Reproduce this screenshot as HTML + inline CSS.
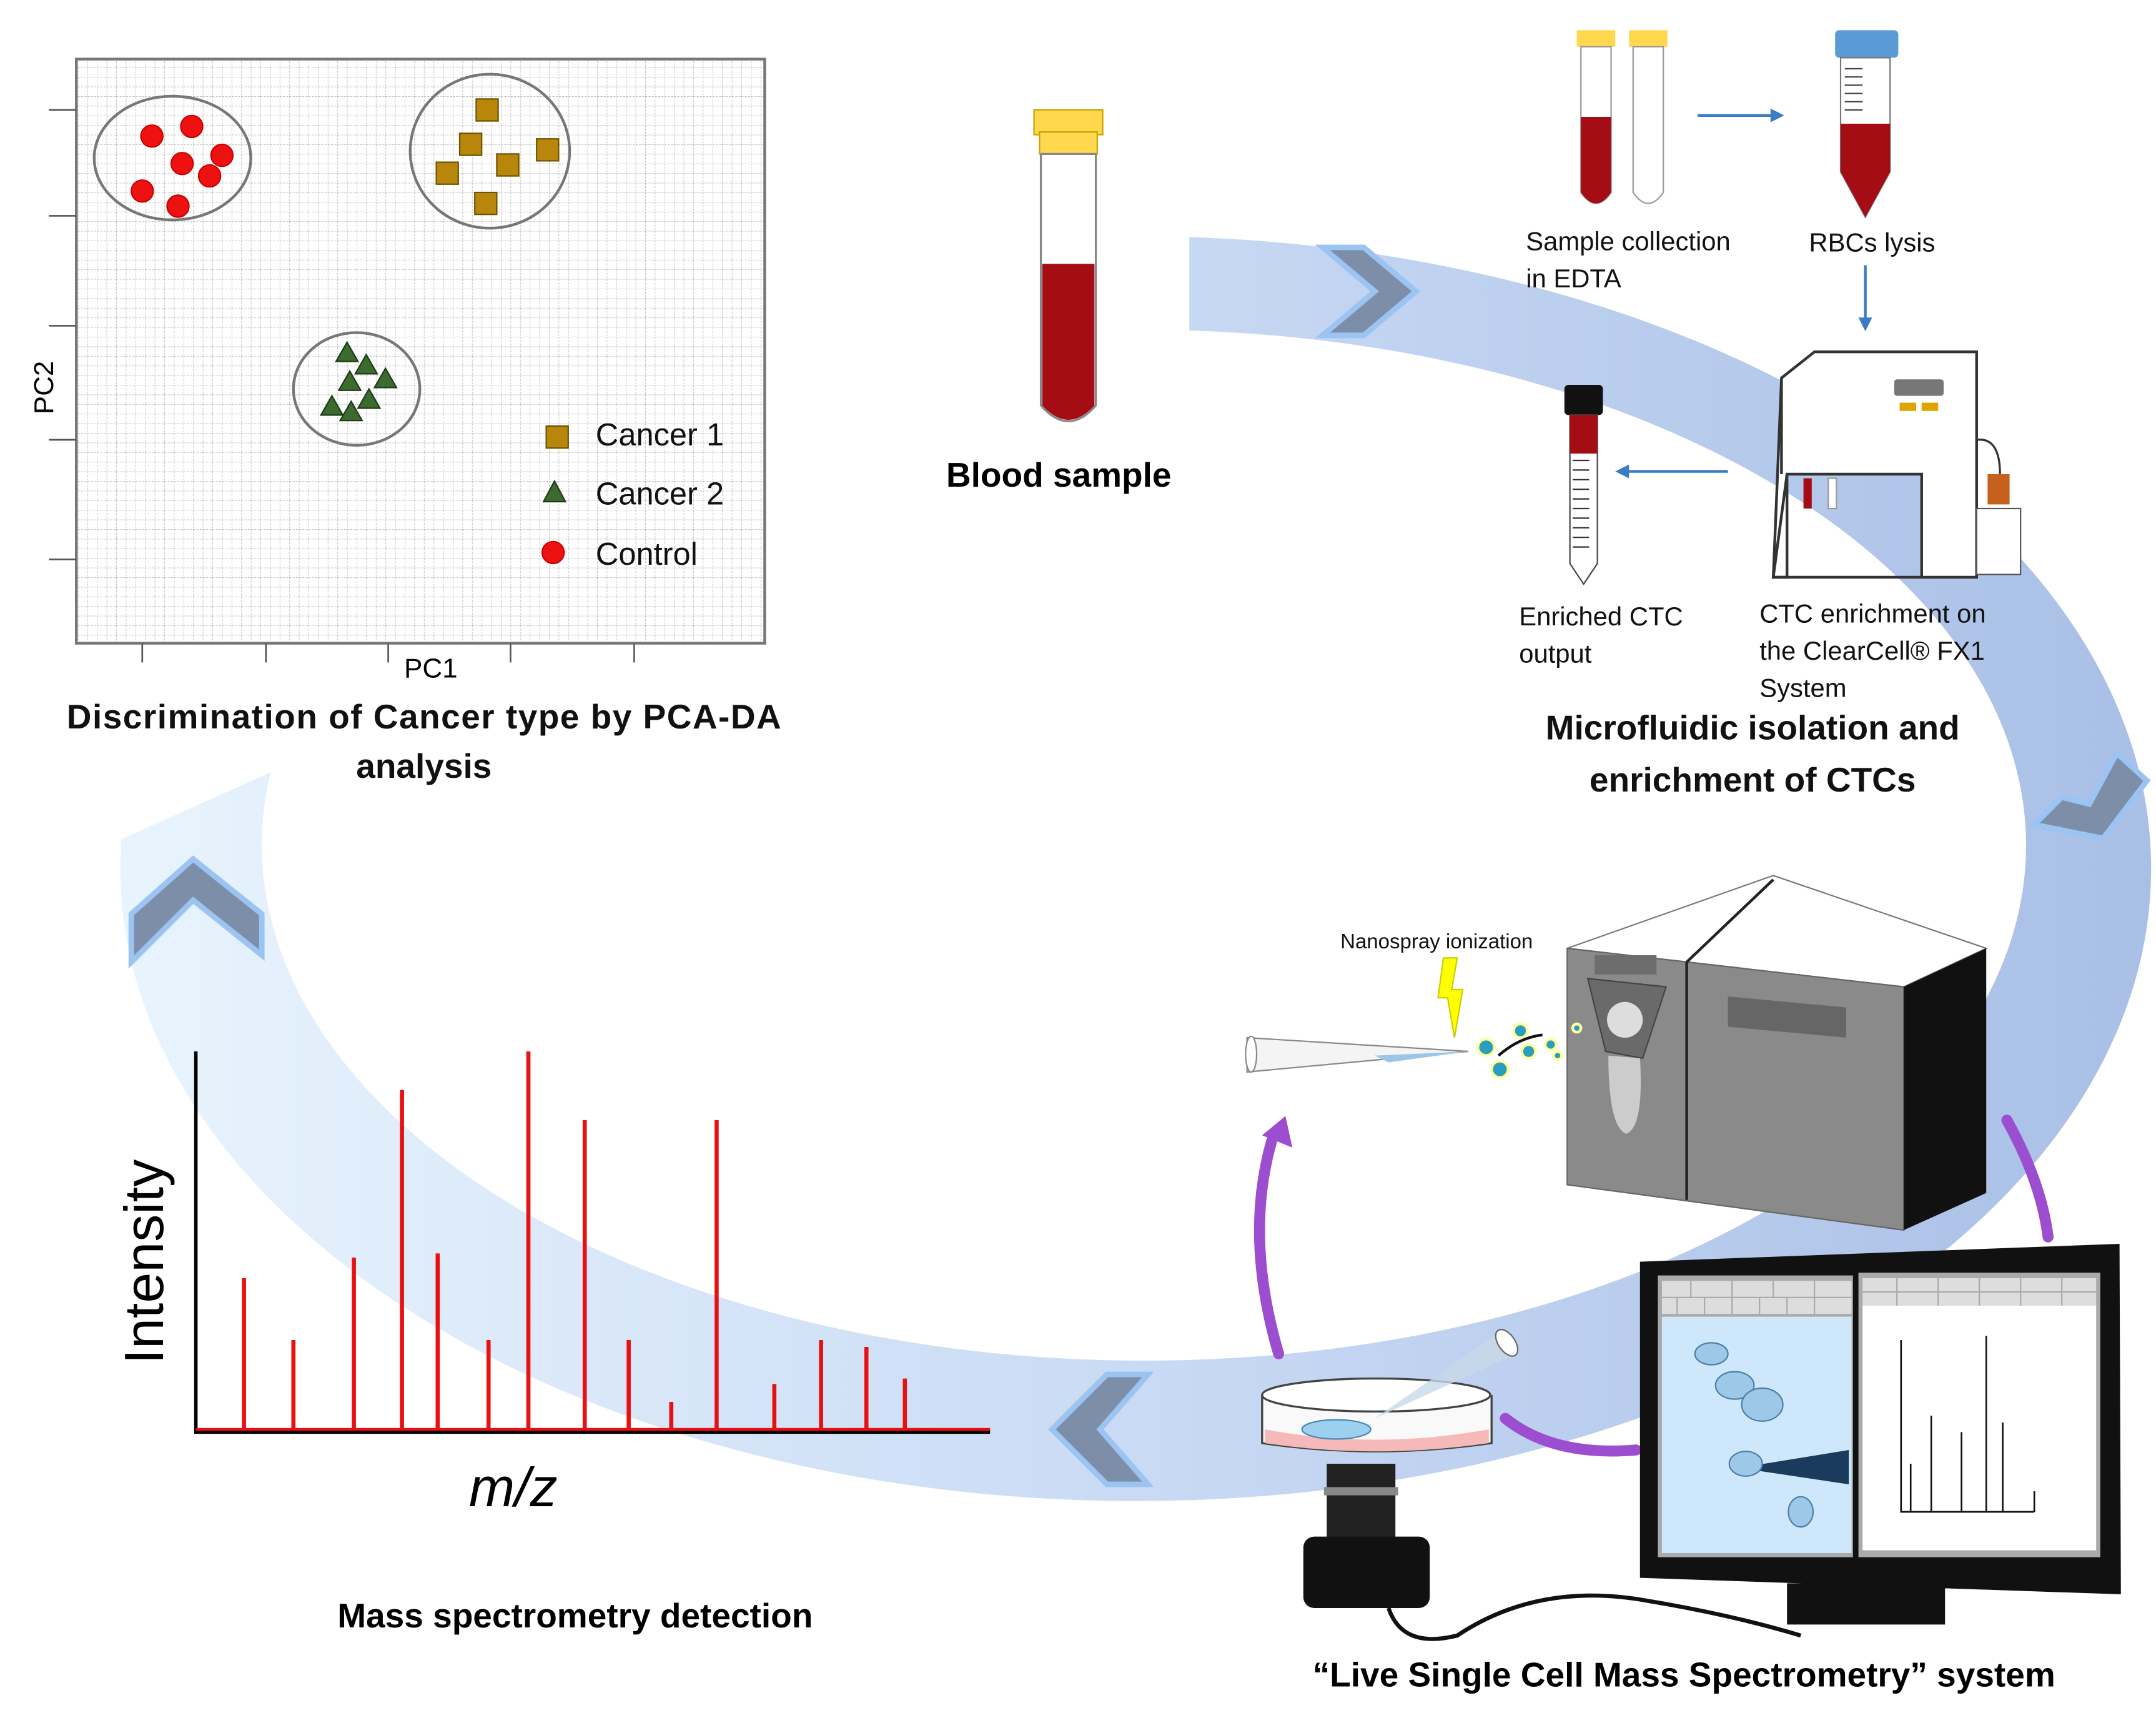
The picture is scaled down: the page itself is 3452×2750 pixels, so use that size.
<!DOCTYPE html>
<html><head><meta charset="utf-8"><style>html,body{margin:0;padding:0;background:#fff}svg{display:block}text{font-family:"Liberation Sans",sans-serif}</style></head><body>
<svg width="3452" height="2750" viewBox="0 0 1568 1250" xmlns="http://www.w3.org/2000/svg">
<defs>
<linearGradient id="ring" x1="0" y1="0" x2="1" y2="0"><stop offset="0" stop-color="#e8f4fd"/><stop offset="0.5" stop-color="#c9daf4"/><stop offset="1" stop-color="#a9bfe6"/></linearGradient>
<pattern id="grid" width="7" height="7" patternUnits="userSpaceOnUse"><rect width="7" height="7" fill="#fff"/><path d="M0 0H7M0 0V7" stroke="#bbb" stroke-width="0.8" stroke-dasharray="1.5 1"/></pattern>
<clipPath id="rc"><polygon points="865,0 1568,0 1568,1250 0,1250 0,650 865,262"/></clipPath>
</defs>
<rect width="1568" height="1250" fill="#fff"/>
<path clip-path="url(#rc)" fill-rule="evenodd" fill="url(#ring)" d="M87 632 A739 460 0 1 0 1565 632 A739 460 0 1 0 87 632 Z M190 615 A642 375 0 1 0 1474 615 A642 375 0 1 0 190 615 Z"/>
<g fill="#7d8ea8" stroke="#9cc4f2" stroke-width="4">
<polygon points="962,180 992,180 1030,212 992,244 962,244 1000,212"/>
<polygon points="1540,548 1562,568 1530,610 1480,600 1500,580 1520,585"/>
<polygon points="835,1000 805,1000 765,1040 805,1080 835,1080 800,1040"/>
<polygon points="95,700 95,665 140,625 190,665 190,695 140,655"/>
</g>
<rect x="55" y="43" width="501" height="425" fill="url(#grid)" stroke="#777" stroke-width="2"/>
<g stroke="#555" stroke-width="1.2">
<path d="M35 80H55M35 157H55M35 237H55M35 320H55M35 407H55M103 468V482M193 468V482M282 468V482M371 468V482M461 468V482"/>
</g>
<g fill="none" stroke="#777" stroke-width="2">
<ellipse cx="125" cy="115" rx="57" ry="45"/><ellipse cx="356" cy="110" rx="58" ry="56"/><ellipse cx="259" cy="283" rx="46" ry="41"/>
</g>
<g fill="#ee1111" stroke="#c00" stroke-width="1">
<circle cx="110" cy="99" r="8"/><circle cx="139" cy="92" r="8"/><circle cx="132" cy="119" r="8"/><circle cx="161" cy="113" r="8"/><circle cx="152" cy="128" r="8"/><circle cx="103" cy="139" r="8"/><circle cx="129" cy="150" r="8"/><circle cx="402" cy="402" r="8"/>
</g>
<g fill="#b8860b" stroke="#6b5200" stroke-width="1">
<rect x="346" y="72" width="16" height="16"/><rect x="334" y="97" width="16" height="16"/><rect x="361" y="112" width="16" height="16"/><rect x="390" y="101" width="16" height="16"/><rect x="317" y="118" width="16" height="16"/><rect x="345" y="140" width="16" height="16"/><rect x="397" y="310" width="16" height="16"/>
</g>
<g fill="#3b6b2e" stroke="#1d3a15" stroke-width="1">
<polygon points="252,249 244,263 260,263"/><polygon points="266,258 258,272 274,272"/><polygon points="280,268 272,282 288,282"/><polygon points="254,270 246,284 262,284"/><polygon points="241,288 233,302 249,302"/><polygon points="268,283 260,297 276,297"/><polygon points="255,292 247,306 263,306"/><polygon points="403,350 395,365 411,365"/>
</g>
<g font-size="23" fill="#111"><text x="433" y="324">Cancer 1</text><text x="433" y="367">Cancer 2</text><text x="433" y="411">Control</text></g>
<text x="313" y="493" font-size="20" text-anchor="middle">PC1</text>
<text x="38" y="282" font-size="20" text-anchor="middle" transform="rotate(-90 38 282)">PC2</text>
<g font-size="25" font-weight="bold" text-anchor="middle" fill="#111"><text x="308" y="530" textLength="520">Discrimination of Cancer type  by PCA-DA</text><text x="308" y="566">analysis</text></g>
<rect x="752" y="80" width="50" height="18" fill="#ffd84d" stroke="#c9a100"/><rect x="756" y="96" width="42" height="16" fill="#ffd84d" stroke="#c9a100"/>
<path d="M757 112V295Q777 318 797 295V112Z" fill="#fff" stroke="#888" stroke-width="1.5"/>
<path d="M758 192H796V295Q777 316 758 295Z" fill="#a50d14"/>
<text x="770" y="354" font-size="25" font-weight="bold" text-anchor="middle">Blood sample</text>
<rect x="1147" y="22" width="28" height="12" fill="#ffd84d"/><rect x="1185" y="22" width="28" height="12" fill="#ffd84d"/>
<path d="M1150 34V140Q1161 156 1172 140V34Z" fill="#fff" stroke="#999"/><path d="M1150 85H1172V140Q1161 156 1150 140Z" fill="#a50d14"/>
<path d="M1188 34V140Q1199 156 1210 140V34Z" fill="#fff" stroke="#999"/>
<path d="M1235 84H1295" stroke="#3a7dc4" stroke-width="2"/><polygon points="1298,84 1288,79 1288,89" fill="#3a7dc4"/>
<rect x="1335" y="22" width="46" height="20" rx="3" fill="#5b9bd5"/>
<path d="M1339 42V125L1357 158L1375 125V42Z" fill="#fff" stroke="#777"/><path d="M1339 90H1375V125L1357 158L1339 125Z" fill="#a50d14"/>
<path d="M1342 50H1355M1342 56H1355M1342 62H1355M1342 68H1355M1342 74H1355M1342 80H1355" stroke="#444"/>
<g font-size="19" fill="#111"><text x="1110" y="182">Sample collection</text><text x="1110" y="209">in EDTA</text><text x="1316" y="183">RBCs lysis</text>
<text x="1105" y="455">Enriched CTC</text><text x="1105" y="482">output</text><text x="1280" y="453">CTC enrichment on</text><text x="1280" y="480">the ClearCell® FX1</text><text x="1280" y="507">System</text></g>
<path d="M1357 193V235" stroke="#3a7dc4" stroke-width="2"/><polygon points="1357,241 1352,231 1362,231" fill="#3a7dc4"/>
<path d="M1257 343H1182" stroke="#3a7dc4" stroke-width="2"/><polygon points="1175,343 1185,338 1185,348" fill="#3a7dc4"/>
<rect x="1138" y="280" width="28" height="22" rx="3" fill="#111"/>
<path d="M1142 302V410L1152 425L1162 410V302Z" fill="#fff" stroke="#444"/><path d="M1142 302H1162V330H1142Z" fill="#a50d14"/>
<path d="M1144 335H1156M1144 342H1156M1144 349H1156M1144 356H1156M1144 363H1156M1144 370H1156M1144 377H1156M1144 384H1156M1144 391H1156M1144 398H1156" stroke="#333"/>
<g fill="#fff" stroke="#333" stroke-width="2">
<path d="M1296 275L1320 256H1438V420H1398V345H1300V420H1290Z"/>
<path d="M1296 275V345M1300 345L1290 420H1398" fill="none"/>
</g>
<rect x="1378" y="276" width="36" height="12" rx="2" fill="#777"/><rect x="1382" y="293" width="12" height="6" fill="#e0a300"/><rect x="1398" y="293" width="12" height="6" fill="#e0a300"/>
<rect x="1312" y="348" width="6" height="22" fill="#a50d14"/><rect x="1330" y="348" width="6" height="22" fill="#fff" stroke="#999"/>
<path d="M1438 320Q1455 318 1455 345" fill="none" stroke="#333" stroke-width="1.5"/>
<rect x="1438" y="370" width="32" height="48" fill="#fff" stroke="#555"/><rect x="1446" y="345" width="16" height="22" fill="#c5611d"/>
<g font-size="25" font-weight="bold" text-anchor="middle" fill="#111"><text x="1275" y="538">Microfluidic isolation and</text><text x="1275" y="576">enrichment of CTCs</text></g>
<polygon points="1140,690 1290,637 1445,690 1385,718" fill="#fff" stroke="#777"/>
<polygon points="1140,690 1385,718 1385,895 1140,862" fill="#8a8a8a" stroke="#666"/>
<polygon points="1385,718 1445,690 1445,868 1385,895" fill="#111"/>
<path d="M1227 700V873M1227 700L1290 640" stroke="#222" stroke-width="2"/>
<polygon points="1257,725 1343,733 1343,755 1257,747" fill="#666"/>
<rect x="1160" y="695" width="45" height="14" fill="#6d6d6d"/>
<polygon points="1155,712 1212,718 1195,770 1168,765" fill="#6a6a6a" stroke="#444"/>
<circle cx="1182" cy="742" r="13" fill="#ddd"/><path d="M1170 768Q1170 820 1183 825Q1196 820 1193 770Z" fill="#ccc"/>
<text x="1045" y="690" font-size="15" text-anchor="middle" fill="#111">Nanospray ionization</text>
<polygon points="1050,697 1060,697 1056,720 1064,720 1058,755 1053,726 1046,726" fill="#ffff00" stroke="#cc0"/>
<polygon points="907,755 1068,765 907,780" fill="#f4f4f4" stroke="#888"/><ellipse cx="910" cy="767" rx="4" ry="13" fill="#fff" stroke="#888"/>
<polygon points="1000,768 1068,765 1010,773" fill="#9cc6e8"/>
<g fill="#2b9dbf" stroke="#ffffa0" stroke-width="2"><circle cx="1081" cy="762" r="6"/><circle cx="1091" cy="778" r="6"/><circle cx="1106" cy="750" r="5"/><circle cx="1112" cy="765" r="5"/><circle cx="1128" cy="760" r="4"/><circle cx="1133" cy="768" r="3"/><circle cx="1147" cy="748" r="3"/></g>
<path d="M1090 768Q1105 755 1122 753" fill="none" stroke="#111" stroke-width="2"/>
<g fill="none" stroke="#9b4fd0" stroke-width="8" stroke-linecap="round">
<path d="M930 985Q905 900 925 830"/><path d="M1095 1032Q1130 1060 1190 1055"/><path d="M1460 815Q1485 860 1490 900"/>
</g>
<polygon points="918,826 935,812 940,835" fill="#9b4fd0"/>
<path d="M918 1015V1050Q1000 1062 1085 1050V1015" fill="#f9f9f9" stroke="#444" stroke-width="1.5"/>
<ellipse cx="1001" cy="1015" rx="83" ry="12" fill="#fff" stroke="#444" stroke-width="1.5"/>
<path d="M920 1040Q1000 1055 1083 1040V1050Q1000 1062 920 1050Z" fill="#f6b9b9"/>
<ellipse cx="972" cy="1040" rx="25" ry="7" fill="#9cd0ee" stroke="#4a89b0"/>
<polygon points="1000,1032 1090,970 1103,985" fill="#c8d8e8" opacity="0.8"/><ellipse cx="1096" cy="977" rx="6" ry="11" fill="#fff" stroke="#666" transform="rotate(-35 1096 977)"/>
<rect x="965" y="1065" width="50" height="55" fill="#222"/><rect x="963" y="1082" width="54" height="6" fill="#888"/>
<rect x="948" y="1118" width="92" height="52" rx="8" fill="#111"/>
<path d="M1010 1170Q1020 1200 1060 1190Q1120 1150 1200 1165Q1260 1175 1310 1190" fill="none" stroke="#111" stroke-width="3"/>
<polygon points="1193,918 1542,905 1543,1160 1193,1148" fill="#111"/>
<rect x="1300" y="1152" width="115" height="30" fill="#111"/>
<rect x="1206" y="928" width="142" height="205" fill="#aaa"/><rect x="1352" y="926" width="176" height="207" fill="#aaa"/>
<rect x="1209" y="958" width="138" height="172" fill="#cfe7fa"/><rect x="1355" y="950" width="170" height="178" fill="#fff"/>
<rect x="1209" y="932" width="138" height="24" fill="#ddd"/><rect x="1355" y="930" width="170" height="20" fill="#ddd"/>
<g stroke="#aaa" fill="none"><path d="M1209 944H1347M1230 932V944M1260 932V944M1290 932V944M1320 932V944M1220 944V956M1240 944V956M1260 944V956M1280 944V956M1300 944V956M1320 944V956M1355 940H1525M1380 930V950M1410 930V950M1440 930V950M1470 930V950M1500 930V950"/></g>
<polygon points="1265,1068 1345,1055 1345,1080" fill="#1a3b5c"/>
<g fill="#9dc8e8" stroke="#4a7fa8"><ellipse cx="1262" cy="1008" rx="14" ry="10"/><ellipse cx="1282" cy="1022" rx="15" ry="12"/><ellipse cx="1270" cy="1065" rx="12" ry="9"/><ellipse cx="1310" cy="1100" rx="9" ry="11"/><ellipse cx="1245" cy="985" rx="12" ry="8"/></g>
<g stroke="#111" stroke-width="1.2" fill="none"><path d="M1383 975V1100H1480M1445 972V1100M1405 1030V1100M1427 1042V1100M1457 1035V1100M1390 1065V1100M1480 1085V1100"/></g>
<path d="M142 765V1042H720" fill="none" stroke="#000" stroke-width="2.5"/>
<g stroke="#e81010" stroke-width="3"><path d="M177 1040V930M213 1040V975M257 1040V915M292 1040V793M318 1040V912M355 1040V975M384 1040V765M425 1040V815M457 1040V975M488 1040V1020M521 1040V815M563 1040V1007M597 1040V975M630 1040V980M658 1040V1003"/></g>
<path d="M142 1040H720" stroke="#e81010" stroke-width="2"/>
<text x="118" y="918" font-size="40" text-anchor="middle" transform="rotate(-90 118 918)">Intensity</text>
<text x="373" y="1096" font-size="40" font-style="italic" text-anchor="middle">m/z</text>
<text x="418" y="1184" font-size="25" font-weight="bold" text-anchor="middle">Mass spectrometry detection</text>
<text x="1225" y="1227" font-size="25" font-weight="bold" text-anchor="middle">“Live Single Cell Mass Spectrometry” system</text>
</svg>
</body></html>
